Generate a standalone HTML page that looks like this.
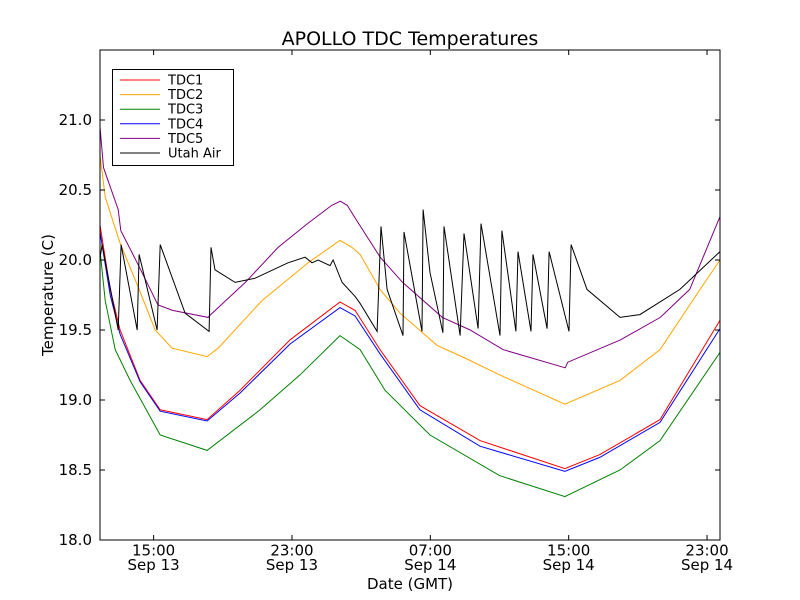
<!DOCTYPE html>
<html><head><meta charset="utf-8"><style>
body{margin:0;background:#fff;}
svg{display:block;font-family:"DejaVu Sans","Liberation Sans",sans-serif;}
</style></head><body>
<svg id="chart" width="800" height="600">
<rect x="0" y="0" width="800" height="600" fill="#fff"/>
<text x="410" y="45" font-size="19" text-anchor="middle">APOLLO TDC Temperatures</text>
<text x="410" y="589" font-size="15" text-anchor="middle">Date (GMT)</text>
<text transform="translate(53,295) rotate(-90)" font-size="15" text-anchor="middle">Temperature (C)</text>
<g id="plot"></g>
</svg>
<script>
const yTicks=[18.0,18.5,19.0,19.5,20.0,20.5,21.0];
const yTickLabels=["18.0","18.5","19.0","19.5","20.0","20.5","21.0"];
const xTicks=[15,23,31,39,47];
const xTickLabels=[["15:00","Sep 13"],["23:00","Sep 13"],["07:00","Sep 14"],["15:00","Sep 14"],["23:00","Sep 14"]];
const seriesNames=["TDC1","TDC2","TDC3","TDC4","TDC5","Utah Air"];
const tdc1Hours=[11.9,12.49,13.06,14.22,15.38,18.09,20.0,22.89,25.78,26.65,28.09,30.4,33.87,38.78,40.8,44.28,47.75];
const tdc1Values=[20.25,19.79,19.5,19.14,18.93,18.86,19.07,19.43,19.7,19.64,19.36,18.96,18.71,18.51,18.61,18.86,19.57];
const tdc4Hours=tdc1Hours;
const tdc4Values=[20.2,19.75,19.47,19.13,18.92,18.85,19.05,19.4,19.66,19.6,19.33,18.93,18.67,18.49,18.59,18.84,19.51];
const tdc2Hours=[11.9,12.2,13.06,14.1,15.09,16.07,18.09,18.73,21.27,23.93,25.78,26.47,26.94,28.09,29.25,31.39,33.0,35.0,38.78,41.97,44.28,46.6,47.75];
const tdc2Values=[20.75,20.45,20.12,19.81,19.5,19.37,19.31,19.37,19.71,19.98,20.14,20.09,20.04,19.79,19.62,19.39,19.3,19.18,18.97,19.14,19.36,19.79,20.0];
const tdc3Hours=[11.9,12.2,12.78,13.64,15.38,18.09,21.16,23.47,25.78,26.94,28.38,30.98,35.0,38.78,41.97,44.28,47.75];
const tdc3Values=[20.07,19.71,19.36,19.14,18.75,18.64,18.93,19.18,19.46,19.36,19.07,18.75,18.46,18.31,18.5,18.71,19.34];
const tdc5Hours=[11.9,12.1,12.95,13.1,14.05,15.25,16.1,18.15,18.3,20.3,22.2,23.9,25.3,25.8,26.2,26.65,28.1,29.4,31.7,33.3,35.2,38.8,38.95,42,44.3,46,47.75];
const tdc5Values=[20.95,20.66,20.36,20.21,19.98,19.68,19.64,19.59,19.61,19.84,20.09,20.26,20.39,20.42,20.39,20.3,20.02,19.84,19.59,19.5,19.36,19.23,19.27,19.43,19.59,19.79,20.31];
const airHours=[11.9,12.02,12.95,13.12,14.05,14.16,15.2,15.38,16.82,18.21,18.32,18.55,19.71,20.87,22.77,23.76,24.16,24.51,25.2,25.38,25.9,26.65,26.94,27.92,28.15,28.5,29.42,29.48,30.52,30.58,30.98,31.73,31.79,32.72,32.95,33.76,33.93,35.03,35.14,35.95,36.07,36.82,36.94,37.75,37.87,39.02,39.14,40.06,41.97,43.12,45.43,47.75];
const airValues=[20.01,20.11,19.5,20.11,19.5,20.04,19.5,20.11,19.62,19.49,20.09,19.93,19.84,19.87,19.98,20.02,19.98,20.0,19.96,20.0,19.84,19.74,19.69,19.49,20.24,19.79,19.46,20.2,19.49,20.36,19.91,19.48,20.24,19.46,20.19,19.51,20.26,19.46,20.21,19.49,20.06,19.49,20.04,19.51,20.06,19.49,20.11,19.79,19.59,19.61,19.79,20.06];
const seriesData=[[tdc1Hours,tdc1Values,"#ff0000"],[tdc2Hours,tdc2Values,"#ffa500"],[tdc3Hours,tdc3Values,"#008000"],[tdc4Hours,tdc4Values,"#0000ff"],[tdc5Hours,tdc5Values,"#800080"],[airHours,airValues,"#000000"]];

const L=100,R=720,T=50,B=540;
const X0=11.9,X1=47.75,Y0=18,Y1=21.5;
function xs(h){return L+(h-X0)/(X1-X0)*(R-L);}
function ys(v){return B-(v-Y0)/(Y1-Y0)*(B-T);}
const NS="http://www.w3.org/2000/svg";
const plot=document.getElementById('plot');
function mk(tag,attrs,parent){const e=document.createElementNS(NS,tag);for(const k in attrs)e.setAttribute(k,attrs[k]);(parent||plot).appendChild(e);return e;}

const order=[4,1,0,3,2,5];
order.forEach(i=>{
  const [hs,vs,c]=seriesData[i];
  const d=hs.map((h,j)=>(j?'L':'M')+xs(h).toFixed(1)+','+ys(vs[j]).toFixed(1)).join(' ');
  const p=mk('path',{d:d,fill:'none',stroke:c,'stroke-width':1});
  
  
});

const frame=mk('rect',{x:L,y:T,width:R-L,height:B-T,fill:'none',stroke:'#000','stroke-width':1});



yTicks.forEach((v,i)=>{
  const y=ys(v);
  mk('line',{x1:L,x2:L+5,y1:y,y2:y,stroke:'#000'});
  mk('line',{x1:R,x2:R-5,y1:y,y2:y,stroke:'#000'});
  const t=mk('text',{x:L-8,y:y+5,'font-size':15,'text-anchor':'end'});
  t.textContent=yTickLabels[i];
  
  
});
xTicks.forEach((h,i)=>{
  const x=xs(h);
  mk('line',{x1:x,x2:x,y1:B,y2:B-5,stroke:'#000'});
  mk('line',{x1:x,x2:x,y1:T,y2:T+5,stroke:'#000'});
  const t=mk('text',{x:x,y:B+15.5,'font-size':15,'text-anchor':'middle'});
  t.textContent=xTickLabels[i][0];
  
  
  const t2=mk('text',{x:x,y:B+30,'font-size':15,'text-anchor':'middle'});
  t2.textContent=xTickLabels[i][1];
  
  
});

const lg=mk('g',{});


mk('rect',{x:112.5,y:69.5,width:121,height:96,fill:'#fff',stroke:'#000'},lg);
seriesNames.forEach((n,i)=>{
  const y=80+i*14.6;
  const g=mk('g',{},lg);
  
  
  mk('line',{x1:120,x2:160,y1:y,y2:y,stroke:seriesData[i][2],'stroke-width':1},g);
  const t=mk('text',{x:168,y:y+4.5,'font-size':13},g);
  t.textContent=n;
});
</script>
</body></html>
